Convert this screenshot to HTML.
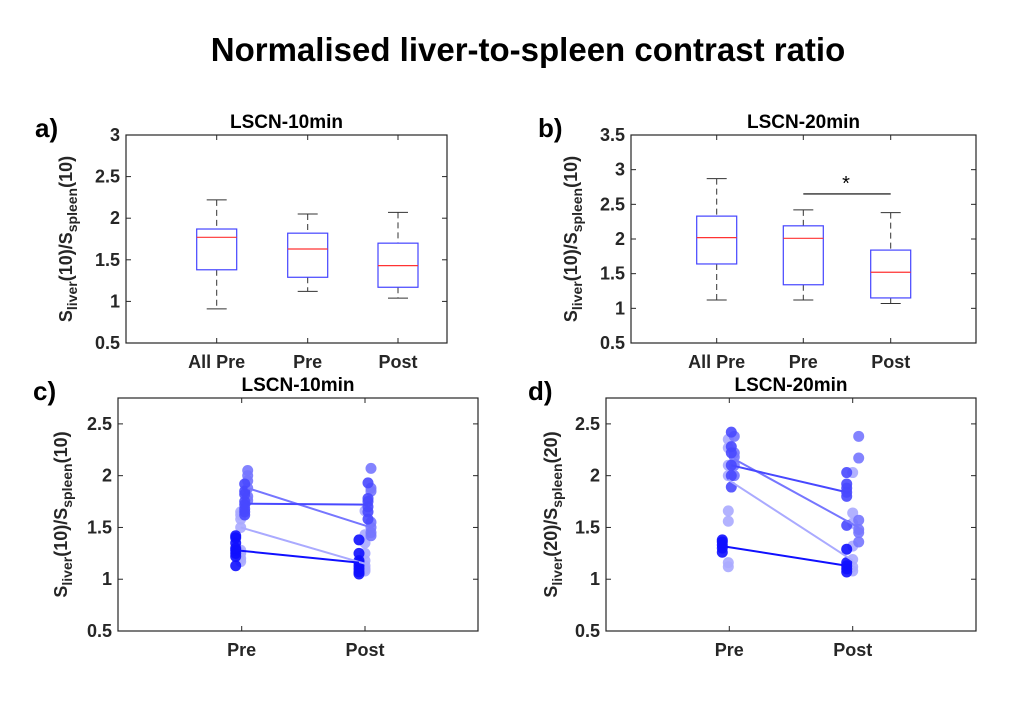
<!DOCTYPE html>
<html><head><meta charset="utf-8"><style>
body{margin:0;background:#fff;}
svg{display:block;font-family:"Liberation Sans",Arial,sans-serif;}
</style></head><body>
<svg id="fig" width="1027" height="718" viewBox="0 0 1027 718" xmlns="http://www.w3.org/2000/svg">
<rect width="1027" height="718" fill="#fff"/>
<text x="528" y="61" text-anchor="middle" font-size="33" font-weight="bold" fill="#000">Normalised liver-to-spleen contrast ratio</text>
<g id="root"></g>
</svg>
<script>
// ---- Data ----
const boxCats = ["All Pre","Pre","Post"];
const boxA_q1 = [1.38,1.29,1.17];
const boxA_q3 = [1.87,1.82,1.70];
const boxA_med = [1.77,1.63,1.43];
const boxA_lo = [0.91,1.12,1.04];
const boxA_hi = [2.22,2.05,2.07];
const boxB_q1 = [1.64,1.34,1.15];
const boxB_q3 = [2.33,2.19,1.84];
const boxB_med = [2.02,2.01,1.52];
const boxB_lo = [1.12,1.12,1.07];
const boxB_hi = [2.87,2.42,2.38];
const ticksA = [0.5,1,1.5,2,2.5,3];
const ticksB = [0.5,1,1.5,2,2.5,3,3.5];
const ticksCD = [0.5,1,1.5,2,2.5];
const sigValue = 2.65;
const pairCats = ["Pre","Post"];
const cPre = [
 [1.13,1.22,1.25,1.28,1.30,1.35,1.40,1.42],
 [1.62,1.65,1.68,1.72,1.75,1.82,1.85,1.92],
 [1.76,1.80,1.88,1.95,2.00,2.05],
 [1.17,1.20,1.25,1.28,1.50,1.58,1.62,1.65]];
const cPost = [
 [1.05,1.07,1.10,1.13,1.16,1.18,1.25,1.38],
 [1.58,1.65,1.70,1.75,1.78,1.93],
 [1.42,1.45,1.50,1.55,1.85,1.88,2.07],
 [1.08,1.10,1.13,1.18,1.25,1.35,1.43,1.66]];
const cLinePre = [1.28,1.73,1.88,1.50];
const cLinePost = [1.16,1.72,1.50,1.15];
const dPre = [
 [1.26,1.30,1.33,1.36,1.38],
 [1.89,2.00,2.10,2.22,2.28,2.42],
 [2.00,2.10,2.18,2.22,2.38],
 [1.12,1.16,1.56,1.66,2.00,2.10,2.27,2.35]];
const dPost = [
 [1.07,1.10,1.13,1.16,1.29],
 [1.52,1.80,1.84,1.88,1.92,2.03],
 [1.36,1.45,1.48,1.57,2.17,2.38],
 [1.08,1.12,1.19,1.32,1.54,1.64,2.03]];
const dLinePre = [1.32,2.10,2.16,1.96];
const dLinePost = [1.13,1.84,1.50,1.18];

const NS="http://www.w3.org/2000/svg";
const root=document.getElementById('root');
function mk(tag,attrs,parent,text){const e=document.createElementNS(NS,tag);for(const k in attrs)e.setAttribute(k,attrs[k]);if(text!==undefined)e.textContent=text;(parent||root).appendChild(e);return e;}

function axes(name,L,R,T,B,ymin,ymax,yticks,xpos,xlabels,title,letter,letterX,ylabX,sub){
  const g=mk('g',{});
  
  
  const y=v=>B-(v-ymin)/(ymax-ymin)*(B-T);
  const fr=mk('rect',{x:L,y:T,width:R-L,height:B-T,fill:'none',stroke:'#262626','stroke-width':1.2},g);
  
  
  yticks.forEach(v=>{
    const yy=y(v);
    mk('line',{x1:L,x2:L+5,y1:yy,y2:yy,stroke:'#262626'},g);
    mk('line',{x1:R,x2:R-5,y1:yy,y2:yy,stroke:'#262626'},g);
    const t=mk('text',{x:L-6,y:yy+6,'text-anchor':'end','font-size':18,'font-weight':'bold',fill:'#262626'},g,String(v));
    
    
  });
  xpos.forEach((xx,i)=>{
    mk('line',{x1:xx,x2:xx,y1:B,y2:B-5,stroke:'#262626'},g);
    mk('line',{x1:xx,x2:xx,y1:T,y2:T+5,stroke:'#262626'},g);
    const t=mk('text',{x:xx,y:B+25,'text-anchor':'middle','font-size':18,'font-weight':'bold',fill:'#262626'},g,xlabels[i]);
    
    
  });
  const tt=mk('text',{x:(L+R)/2,y:T-7,'text-anchor':'middle','font-size':19,'font-weight':'bold',fill:'#000'},g,title);
  
  
  const lt=mk('text',{x:letterX,y:T+2,'font-size':26,'font-weight':'bold',fill:'#000'},g,letter);
  
  
  const cy=(T+B)/2;
  const yl=mk('text',{x:0,y:0,'text-anchor':'middle','font-size':18,'font-weight':'bold',fill:'#262626',transform:`translate(${ylabX},${cy}) rotate(-90)`},g);
  
  
  const parts=[['S',0],['liver',1],['('+sub+')/S',0],['spleen',1],['('+sub+')',0]];
  parts.forEach(p=>{const ts=mk('tspan',{},yl,p[0]);if(p[1]){ts.setAttribute('font-size','14');ts.setAttribute('baseline-shift','-5');}});
  return {g,y};
}

function boxPanel(name,L,R,T,B,ymin,ymax,yt,xpos,title,letter,letterX,ylabX,q1,q3,med,lo,hi){
  const {g,y}=axes(name,L,R,T,B,ymin,ymax,yt,xpos,boxCats,title,letter,letterX,ylabX,'10');
  const w=20;
  boxCats.forEach((c,i)=>{
    const x=xpos[i];
    const bg=mk('g',{},g);
    
    
    mk('line',{x1:x,x2:x,y1:y(hi[i]),y2:y(q3[i]),stroke:'#333','stroke-dasharray':'6,4'},bg);
    mk('line',{x1:x,x2:x,y1:y(q1[i]),y2:y(lo[i]),stroke:'#333','stroke-dasharray':'6,4'},bg);
    mk('line',{x1:x-10,x2:x+10,y1:y(hi[i]),y2:y(hi[i]),stroke:'#333'},bg);
    mk('line',{x1:x-10,x2:x+10,y1:y(lo[i]),y2:y(lo[i]),stroke:'#333'},bg);
    mk('rect',{x:x-w,y:y(q3[i]),width:2*w,height:y(q1[i])-y(q3[i]),fill:'none',stroke:'#4444ff','stroke-width':1.2},bg);
    mk('line',{x1:x-w,x2:x+w,y1:y(med[i]),y2:y(med[i]),stroke:'#ff3333','stroke-width':1.2},bg);
  });
  return {g,y};
}

const pa=boxPanel('panel-a-boxplot',126,447,135,343,0.5,3,ticksA,[216.7,307.7,398],'LSCN-10min','a)',35,72,boxA_q1,boxA_q3,boxA_med,boxA_lo,boxA_hi);
const pb=boxPanel('panel-b-boxplot',631,976,135,343,0.5,3.5,ticksB,[716.7,803.3,890.7],'LSCN-20min','b)',538,577,boxB_q1,boxB_q3,boxB_med,boxB_lo,boxB_hi);
const sl=mk('line',{x1:803.3,x2:890.7,y1:pb.y(sigValue),y2:pb.y(sigValue),stroke:'#000','stroke-width':1.2},pb.g);


const st=mk('text',{x:846,y:pb.y(sigValue)-4,'text-anchor':'middle','font-size':20,fill:'#000'},pb.g,'*');



const colors=['#1010ff','#4848ff','#7676ff','#aaaaff'];
function pairPanel(name,L,R,letter,letterX,ylabX,sub,title,xpos,offPre,offPost,pre,post,lpre,lpost){
  const {g,y}=axes(name,L,R,398,631,0.5,2.75,ticksCD,xpos,pairCats,title,letter,letterX,ylabX,sub);
  [3,2,1,0].forEach(k=>{
    const gg=mk('g',{},g);
    
    
    pre[k].forEach(v=>{const c=mk('circle',{cx:xpos[0]+offPre[k],cy:y(v),r:5.5,fill:colors[k],'fill-opacity':0.9},gg);});
    post[k].forEach(v=>{const c=mk('circle',{cx:xpos[1]+offPost[k],cy:y(v),r:5.5,fill:colors[k],'fill-opacity':0.9},gg);});
  });
  [3,2,1,0].forEach(k=>{
    const l=mk('line',{x1:xpos[0]+offPre[k],x2:xpos[1]+offPost[k],y1:y(lpre[k]),y2:y(lpost[k]),stroke:colors[k],'stroke-width':2},g);
    
    
  });
}
pairPanel('panel-c-paired',118,478,'c)',33,67,'10','LSCN-10min',[241.7,365],[-6,3,6,-1],[-6,3,6,0],cPre,cPost,cLinePre,cLinePost);
pairPanel('panel-d-paired',606,976,'d)',528,557,'20','LSCN-20min',[729.3,852.7],[-7,2,5,-1],[-6,-6,6,0],dPre,dPost,dLinePre,dLinePost);
</script>
</body></html>
